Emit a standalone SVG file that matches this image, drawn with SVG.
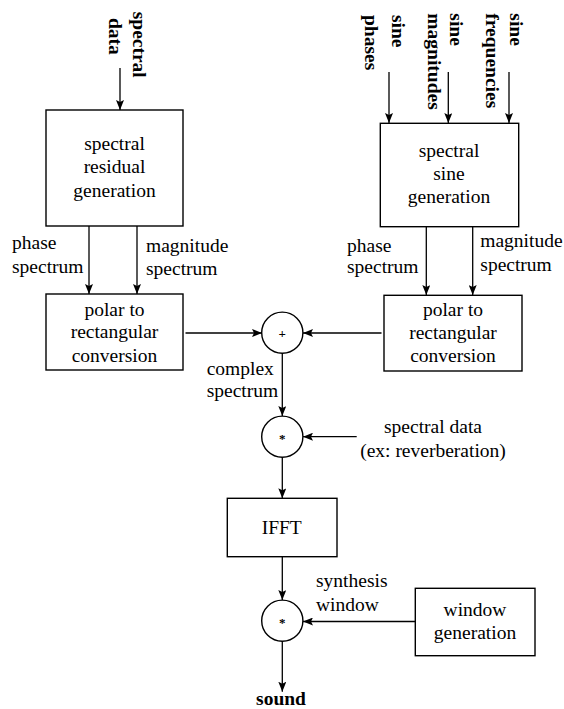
<svg xmlns="http://www.w3.org/2000/svg" width="564" height="709" viewBox="0 0 564 709">
<defs>
<marker id="ah" viewBox="0 0 10 8" refX="10" refY="4" markerWidth="10" markerHeight="8" markerUnits="userSpaceOnUse" orient="auto">
<path d="M0,0 L10,4 L0,8 L2,4 z" fill="#000"/>
</marker>
<style>
.box{fill:#fff;stroke:#000;stroke-width:1.4}
.t{font-size:19.5px;fill:#000}
.c{text-anchor:middle}
.b{font-weight:bold}
.sym{font-size:13px;font-weight:bold;text-anchor:middle;fill:#000}
.ln{stroke:#000;stroke-width:1.3;fill:none;marker-end:url(#ah)}
</style>
</defs>
<rect width="564" height="709" fill="#fff"/>

<g id="connectors">
<line class="ln" x1="120" y1="68" x2="120" y2="110"/>
<line class="ln" x1="389" y1="72" x2="389" y2="123"/>
<line class="ln" x1="448.3" y1="72" x2="448.3" y2="123"/>
<line class="ln" x1="509" y1="72" x2="509" y2="123"/>
<line class="ln" x1="89" y1="226" x2="89" y2="294"/>
<line class="ln" x1="137" y1="226" x2="137" y2="294"/>
<line class="ln" x1="426.3" y1="226.5" x2="426.3" y2="295"/>
<line class="ln" x1="472.7" y1="226.5" x2="472.7" y2="295"/>
<line class="ln" x1="185.5" y1="333" x2="262" y2="333"/>
<line class="ln" x1="381.5" y1="333" x2="303" y2="333"/>
<line class="ln" x1="282.3" y1="353.5" x2="282.3" y2="416"/>
<line class="ln" x1="356.7" y1="436.7" x2="303" y2="436.7"/>
<line class="ln" x1="282.3" y1="457.3" x2="282.3" y2="498.3"/>
<line class="ln" x1="282.3" y1="556.7" x2="282.3" y2="600"/>
<line class="ln" x1="415.3" y1="621.5" x2="303" y2="621.5"/>
<line class="ln" x1="282.3" y1="641" x2="282.3" y2="691.7"/>
</g>

<g font-family="Liberation Serif, serif">
<g id="in-spectral-data">
<text class="t b" transform="translate(132.5,11.7) rotate(90)">spectral</text>
<text class="t b" transform="translate(108.5,18) rotate(90)">data</text>
</g>
<g id="in-sine-phases">
<text class="t b" transform="translate(391.7,15) rotate(90)">sine</text>
<text class="t b" transform="translate(365,15) rotate(90)">phases</text>
</g>
<g id="in-sine-magnitudes">
<text class="t b" transform="translate(450,13.3) rotate(90)">sine</text>
<text class="t b" transform="translate(427.5,13.3) rotate(90)">magnitudes</text>
</g>
<g id="in-sine-frequencies">
<text class="t b" transform="translate(510,13.3) rotate(90)">sine</text>
<text class="t b" transform="translate(486,13.3) rotate(90)">frequencies</text>
</g>

<g id="residual-gen">
<rect class="box" x="46" y="110" width="137" height="116"/>
<text class="t c" x="114.5" y="150">spectral</text>
<text class="t c" x="114.5" y="173.3">residual</text>
<text class="t c" x="114.5" y="196.6">generation</text>
</g>
<g id="sine-gen">
<rect class="box" x="380.3" y="123.3" width="138.4" height="103.4"/>
<text class="t c" x="449" y="156.7">spectral</text>
<text class="t c" x="449" y="180">sine</text>
<text class="t c" x="449" y="203.3">generation</text>
</g>

<g id="labels-left">
<text class="t" x="12" y="249">phase</text>
<text class="t" x="12" y="272.5">spectrum</text>
<text class="t" x="146" y="252">magnitude</text>
<text class="t" x="146" y="275">spectrum</text>
</g>
<g id="labels-right">
<text class="t" x="347" y="251.7">phase</text>
<text class="t" x="347" y="273.3">spectrum</text>
<text class="t" x="480.3" y="247.3">magnitude</text>
<text class="t" x="480.3" y="270.7">spectrum</text>
</g>

<g id="polar-left">
<rect class="box" x="46" y="294" width="137" height="76"/>
<text class="t c" x="114.5" y="315.7">polar to</text>
<text class="t c" x="114.5" y="338.4">rectangular</text>
<text class="t c" x="114.5" y="361.5">conversion</text>
</g>
<g id="polar-right">
<rect class="box" x="384" y="295.3" width="138" height="75.7"/>
<text class="t c" x="453" y="316">polar to</text>
<text class="t c" x="453" y="339">rectangular</text>
<text class="t c" x="453" y="362">conversion</text>
</g>

<g id="sum">
<circle class="box" cx="282.3" cy="332.7" r="20.6"/>
<text class="sym" x="282.3" y="337.5">+</text>
</g>
<g id="label-complex">
<text class="t" x="206.7" y="375">complex</text>
<text class="t" x="206.7" y="396.5">spectrum</text>
</g>

<g id="mult1">
<circle class="box" cx="282.3" cy="436.7" r="20.6"/>
<text class="sym" x="282.3" y="443">*</text>
</g>
<g id="label-spectral-data">
<text class="t c" x="433" y="433.3">spectral data</text>
<text class="t c" x="433" y="456.7">(ex: reverberation)</text>
</g>

<g id="ifft">
<rect class="box" x="227.3" y="498.3" width="109.7" height="58.4"/>
<text class="t c" x="281.7" y="534">IFFT</text>
</g>

<g id="mult2">
<circle class="box" cx="282.3" cy="620.7" r="20.6"/>
<text class="sym" x="282.3" y="627">*</text>
</g>
<g id="label-synthesis">
<text class="t" x="316" y="586.7">synthesis</text>
<text class="t" x="316" y="611">window</text>
</g>

<g id="window-gen">
<rect class="box" x="415.3" y="588.3" width="119.7" height="67.4"/>
<text class="t c" x="475" y="616">window</text>
<text class="t c" x="475" y="639.3">generation</text>
</g>

<g id="out-sound">
<text class="t c b" x="281" y="705">sound</text>
</g>
</g>
</svg>
